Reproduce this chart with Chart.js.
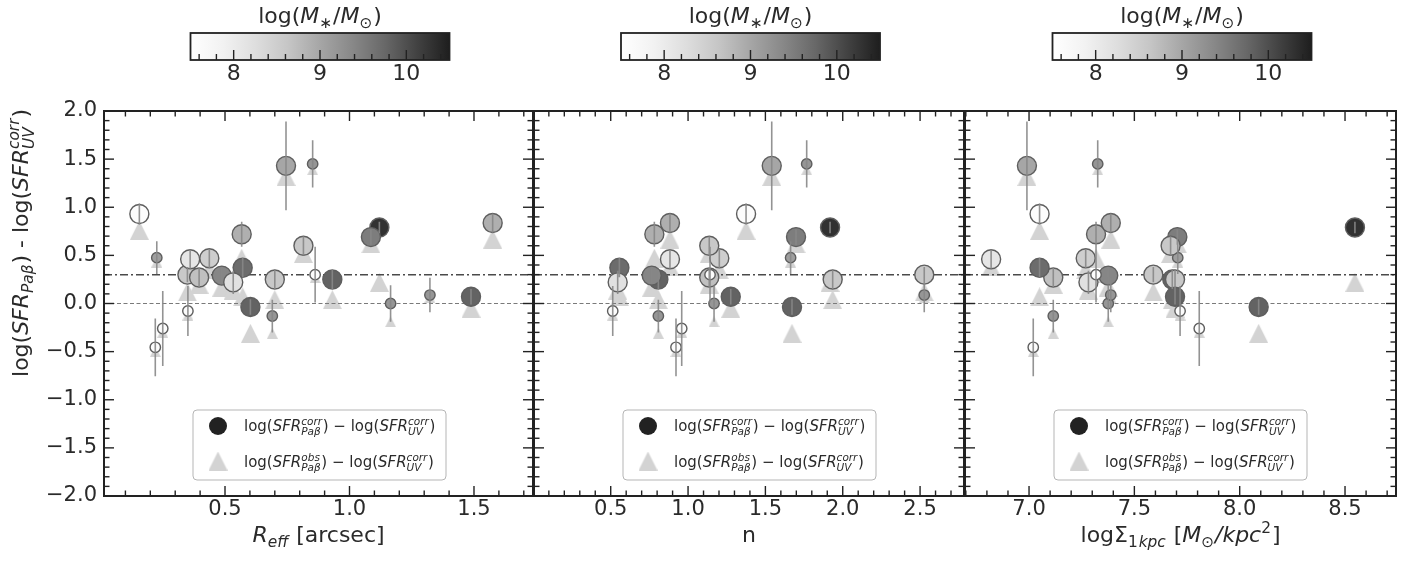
<!DOCTYPE html>
<html>
<head>
<meta charset="utf-8">
<script src="https://cdn.jsdelivr.net/npm/chart.js@4"></script>
<style>
  body { margin: 0; background: #fff; }
  #wrap { position: relative; width: 1425px; height: 561px; }
  #wrap canvas { position: absolute; left: 0; top: 0; }
</style>
</head>
<body>
<div id="wrap">
  <canvas id="p0" width="1425" height="561"></canvas>
  <canvas id="p1" width="1425" height="561"></canvas>
  <canvas id="p2" width="1425" height="561"></canvas>
</div>
<script>
// one entry per galaxy, same order in every array (later entries are drawn on top)
const reff      = [0.156, 0.226, 0.220, 0.250, 0.351, 0.931, 0.349, 0.360, 0.396, 0.437, 0.487, 0.567, 0.571, 0.533,
                   0.602, 0.690, 0.700, 0.745, 0.852, 0.862, 1.120, 1.086, 0.815, 1.165, 1.323, 1.488, 1.575];
const sersicN   = [1.375, 1.663, 0.922, 0.959, 0.513, 0.808, 2.527, 0.883, 1.137, 1.202, 0.765, 0.782, 0.556, 0.545,
                   1.672, 0.808, 1.935, 1.541, 1.767, 1.142, 1.918, 1.698, 1.137, 1.168, 2.527, 1.276, 0.883];
const sigma1kpc = [7.050, 7.706, 7.020, 7.808, 7.717, 7.680, 7.590, 6.820, 7.115, 7.269, 7.376, 7.318, 7.050, 7.282,
                   8.090, 7.115, 7.693, 6.990, 7.326, 7.318, 8.547, 7.704, 7.672, 7.376, 7.388, 7.693, 7.388];
const dSfrCorr  = [0.93, 0.476, -0.455, -0.26, -0.078, 0.25, 0.30, 0.46, 0.27, 0.47, 0.29, 0.72, 0.372, 0.22,
                   -0.036, -0.13, 0.25, 1.43, 1.45, 0.30, 0.79, 0.69, 0.60, 0.00, 0.088, 0.07, 0.836];
const dSfrObs   = [0.76, 0.43, -0.50, -0.30, -0.12, 0.04, 0.12, 0.38, 0.20, 0.35, 0.17, 0.47, 0.07, 0.14,
                   -0.31, -0.31, 0.04, 1.32, 1.39, 0.27, 0.22, 0.62, 0.52, -0.19, 0.06, -0.05, 0.67];
const dSfrErr   = [0.11, 0.17, 0.30, 0.39, 0.26, 0.10, 0.08, 0.10, 0.10, 0.10, 0.08, 0.13, 0.10, 0.12,
                   0.08, 0.17, 0.10, 0.46, 0.245, 0.29, 0.06, 0.08, 0.10, 0.19, 0.18, 0.08, 0.10];
const logMass   = [7.6, 9.1, 7.6, 7.6, 7.6, 9.8, 8.6, 8.1, 8.7, 8.5, 9.4, 8.9, 9.7, 8.2,
                   9.8, 9.2, 8.6, 9.0, 9.2, 7.6, 10.3, 9.5, 8.6, 9.2, 9.2, 9.8, 8.9];
const lowSN     = [0, 1, 1, 1, 1, 0, 0, 0, 0, 0, 0, 0, 0, 0,
                   0, 1, 0, 0, 1, 1, 0, 0, 0, 1, 1, 0, 0];

const refLines = [0.0, 0.3];
const yTicks = [-2.0, -1.5, -1.0, -0.5, 0.0, 0.5, 1.0, 1.5, 2.0];
const xTicks = [[0.5, 1.0, 1.5], [0.5, 1.0, 1.5, 2.0, 2.5], [7.0, 7.5, 8.0, 8.5]];
const xLimits = [[0.014, 1.737], [0.004, 2.784], [6.696, 8.742]];
const massRange = [7.5, 10.5];
const massTicks = [8, 9, 10];

// layout
const W = 1425, H = 561;
const areaLeft = [104, 534, 965], areaRight = [533, 964, 1396];
const areaTop = 111, areaBottom = 496;
const ink = '#222';
const FONT = '"DejaVu Sans"';
const greys = ['#ffffff', '#f2f2f2', '#dedede', '#c6c6c6', '#a6a6a6', '#888888', '#686868', '#424242', '#1e1e1e'];

function hex(c) { return [1, 3, 5].map(i => parseInt(c.substr(i, 2), 16)); }
function greyFor(m) {
  let t = (m - massRange[0]) / (massRange[1] - massRange[0]);
  t = Math.max(0, Math.min(1, t)) * (greys.length - 1);
  const i = Math.min(Math.floor(t), greys.length - 2), f = t - i;
  const a = hex(greys[i]), b = hex(greys[i + 1]);
  const c = a.map((v, k) => Math.round(v + (b[k] - v) * f));
  return `rgb(${c[0]},${c[1]},${c[2]})`;
}

function triCanvas(s) {
  const c = document.createElement('canvas');
  c.width = s; c.height = s;
  const g = c.getContext('2d');
  g.fillStyle = '#d3d3d3';
  g.beginPath(); g.moveTo(s / 2, 0); g.lineTo(s, s); g.lineTo(0, s); g.closePath(); g.fill();
  return c;
}
const triBig = triCanvas(19), triSmall = triCanvas(11);

// mathtext-like text: {t, it} plain runs, {sub, sup, it} scripts
function drawRich(ctx, parts, x, y, size, align) {
  const sc = size * 0.7;
  const f = (it, s) => (it ? 'italic ' : '') + s + 'px ' + FONT;
  const items = parts.map(p => {
    if (p.t !== undefined) { ctx.font = f(p.it, size); return { p, w: ctx.measureText(p.t).width }; }
    ctx.font = f(p.it, sc);
    const ws = p.sub ? ctx.measureText(p.sub).width : 0;
    const wp = p.sup ? ctx.measureText(p.sup).width : 0;
    return { p, w: Math.max(ws, wp) + size * 0.04 };
  });
  const total = items.reduce((s, it) => s + it.w, 0);
  let cx = align === 'center' ? x - total / 2 : x;
  ctx.textAlign = 'left'; ctx.textBaseline = 'alphabetic';
  items.forEach(({ p, w }) => {
    if (p.t !== undefined) { ctx.font = f(p.it, size); ctx.fillText(p.t, cx, y); }
    else {
      ctx.font = f(p.it, sc);
      const both = p.sub && p.sup;
      if (p.sub) ctx.fillText(p.sub, cx, y + size * (both ? 0.27 : 0.22));
      if (p.sup) ctx.fillText(p.sup, cx, y - size * 0.42);
    }
    cx += w;
  });
}

const xTitles = [
  [{ t: 'R', it: true }, { sub: 'eff', it: true }, { t: ' [arcsec]' }],
  [{ t: 'n' }],
  [{ t: 'log\u03A3' }, { sub: '1' }, { sub: 'kpc', it: true }, { t: ' [' }, { t: 'M', it: true }, { sub: '\u2299' },
   { t: '/kpc', it: true }, { sup: '2' }, { t: ']' }]
];
const yTitle = [{ t: 'log(' }, { t: 'SFR', it: true }, { sub: 'Pa\u03B2', it: true }, { t: ') - log(' },
  { t: 'SFR', it: true }, { sup: 'corr', sub: 'UV', it: true }, { t: ')' }];
const cbTitle = [{ t: 'log(' }, { t: 'M', it: true }, { sub: '\u2217' }, { t: '/' }, { t: 'M', it: true }, { sub: '\u2299' }, { t: ')' }];
const legendRows = [
  [{ t: 'log(' }, { t: 'SFR', it: true }, { sup: 'corr', sub: 'Pa\u03B2', it: true }, { t: ') \u2212 log(' },
   { t: 'SFR', it: true }, { sup: 'corr', sub: 'UV', it: true }, { t: ')' }],
  [{ t: 'log(' }, { t: 'SFR', it: true }, { sup: 'obs', sub: 'Pa\u03B2', it: true }, { t: ') \u2212 log(' },
   { t: 'SFR', it: true }, { sup: 'corr', sub: 'UV', it: true }, { t: ')' }]
];

const decor = {
  id: 'decor',
  afterDatasetsDraw(chart, args, opts) {
    const { ctx, chartArea: a, scales: { x, y } } = chart;
    const i = opts.panel;
    ctx.save();
    ctx.strokeStyle = ink; ctx.fillStyle = ink; ctx.lineWidth = 1.4;
    const seg = (x1, y1, x2, y2) => { ctx.beginPath(); ctx.moveTo(x1, y1); ctx.lineTo(x2, y2); ctx.stroke(); };

    // inward ticks on all four sides
    for (let k = Math.ceil(x.min * 10); k <= Math.floor(x.max * 10); k++) {
      const px = x.getPixelForValue(k / 10), len = k % 5 === 0 ? 10 : 5.5;
      seg(px, a.bottom, px, a.bottom - len);
      seg(px, a.top, px, a.top + len);
    }
    for (let k = -20; k <= 20; k++) {
      const py = y.getPixelForValue(k / 10), len = k % 5 === 0 ? 10 : 5.5;
      seg(a.left, py, a.left + len, py);
      seg(a.right, py, a.right - len, py);
    }
    ctx.lineWidth = 2;
    ctx.strokeRect(a.left, a.top, a.right - a.left, a.bottom - a.top);

    // legend
    const lx = a.left + 89, ly = 410, lw = 253, lh = 70;
    ctx.beginPath(); ctx.roundRect(lx, ly, lw, lh, 4);
    ctx.fillStyle = 'rgba(255,255,255,0.85)'; ctx.fill();
    ctx.strokeStyle = '#b5b5b5'; ctx.lineWidth = 1; ctx.stroke();
    ctx.fillStyle = '#222';
    ctx.beginPath(); ctx.arc(lx + 25, ly + 16, 9, 0, Math.PI * 2); ctx.fill();
    ctx.drawImage(triBig, lx + 25 - 9.5, ly + 51 - 9.5);
    ctx.fillStyle = '#2a2a2a';
    drawRich(ctx, legendRows[0], lx + 51, ly + 21, 15, 'left');
    drawRich(ctx, legendRows[1], lx + 51, ly + 57, 15, 'left');

    // colour bar
    const cw = 259, ch = 27, cx0 = (a.left + a.right) / 2 - 128, cy0 = 33;
    const grad = ctx.createLinearGradient(cx0, 0, cx0 + cw, 0);
    greys.forEach((c, k) => grad.addColorStop(k / (greys.length - 1), c));
    ctx.fillStyle = grad; ctx.fillRect(cx0, cy0, cw, ch);
    const cbx = v => cx0 + (v - massRange[0]) / (massRange[1] - massRange[0]) * cw;
    ctx.strokeStyle = ink; ctx.lineWidth = 1.4;
    for (let k = 38; k <= 52; k++) {
      const v = k / 5, px = cbx(v);
      const major = Math.abs(v - Math.round(v)) < 1e-6;
      seg(px, cy0 + ch, px, cy0 + ch - (major ? 10 : 6));
    }
    ctx.lineWidth = 1.8; ctx.strokeRect(cx0, cy0, cw, ch);
    ctx.fillStyle = '#2a2a2a';
    ctx.font = '22px ' + FONT; ctx.textAlign = 'center'; ctx.textBaseline = 'alphabetic';
    massTicks.forEach(v => ctx.fillText(String(v), cbx(v), 80));
    drawRich(ctx, cbTitle, cx0 + cw / 2, 23, 22, 'center');

    // axis titles
    drawRich(ctx, xTitles[i], (a.left + a.right) / 2, 542, 22, 'center');
    if (i === 0) {
      ctx.save(); ctx.translate(28, 243); ctx.rotate(-Math.PI / 2);
      drawRich(ctx, yTitle, 0, 0, 22, 'center');
      ctx.restore();
    }
    ctx.restore();
  }
};

const panelX = [reff, sersicN, sigma1kpc];

panelX.forEach((xs, p) => {
  const circles = xs.map((v, k) => ({ x: v, y: dSfrCorr[k] }));
  const triangles = xs.map((v, k) => ({ x: v, y: dSfrObs[k] }));
  const errs = [];
  xs.forEach((v, k) => {
    errs.push({ x: v, y: dSfrCorr[k] - dSfrErr[k] }, { x: v, y: dSfrCorr[k] + dSfrErr[k] }, { x: v, y: null });
  });
  const hline = v => [{ x: xLimits[p][0], y: v }, { x: xLimits[p][1], y: v }];

  new Chart(document.getElementById('p' + p), {
    type: 'scatter',
    data: {
      datasets: [
        {
          type: 'line', data: errs, order: 0, borderColor: 'rgba(135,135,135,0.9)', borderWidth: 1.6,
          pointRadius: 0, spanGaps: false, fill: false
        },
        {
          type: 'scatter', data: circles, order: 1,
          pointStyle: 'circle',
          pointRadius: c => lowSN[c.dataIndex] ? 5.2 : 9.5,
          backgroundColor: c => greyFor(logMass[c.dataIndex]),
          borderColor: '#5e5e5e', borderWidth: 1.4
        },
        {
          type: 'line', data: hline(refLines[0]), order: 2, borderColor: '#7a7a7a', borderWidth: 1.1,
          borderDash: [4, 2.5], pointRadius: 0, fill: false
        },
        {
          type: 'line', data: hline(refLines[1]), order: 2, borderColor: '#4a4a4a', borderWidth: 1.5,
          borderDash: [8, 3, 2, 3], pointRadius: 0, fill: false
        },
        {
          type: 'scatter', data: triangles, order: 3,
          pointStyle: c => lowSN[c.dataIndex] ? triSmall : triBig,
          pointRadius: 6, borderWidth: 0
        }
      ]
    },
    options: {
      responsive: false,
      animation: false,
      devicePixelRatio: 1,
      events: [],
      layout: { padding: { left: p === 0 ? 0 : areaLeft[p], right: W - areaRight[p], top: areaTop, bottom: 0 } },
      scales: {
        x: {
          type: 'linear', min: xLimits[p][0], max: xLimits[p][1],
          afterBuildTicks: s => { s.ticks = xTicks[p].map(v => ({ value: v })); },
          afterFit: s => { s.height = H - areaBottom; },
          grid: { display: false, drawTicks: false },
          border: { display: false },
          ticks: {
            autoSkip: false, maxRotation: 0, padding: 1, color: '#2a2a2a',
            font: { family: 'DejaVu Sans', size: 21 },
            callback: v => v.toFixed(1)
          }
        },
        y: {
          type: 'linear', min: -2, max: 2, display: p === 0,
          afterBuildTicks: s => { s.ticks = yTicks.map(v => ({ value: v })); },
          afterFit: s => { s.width = p === 0 ? areaLeft[0] : 0; },
          grid: { display: false, drawTicks: false },
          border: { display: false },
          ticks: {
            autoSkip: false, padding: 7, color: '#2a2a2a',
            font: { family: 'DejaVu Sans', size: 21 },
            callback: v => (v < 0 ? '\u2212' : '') + Math.abs(v).toFixed(1)
          }
        }
      },
      plugins: {
        legend: { display: false },
        tooltip: { enabled: false },
        decor: { panel: p }
      }
    },
    plugins: [decor]
  });
});
</script>
</body>
</html>
